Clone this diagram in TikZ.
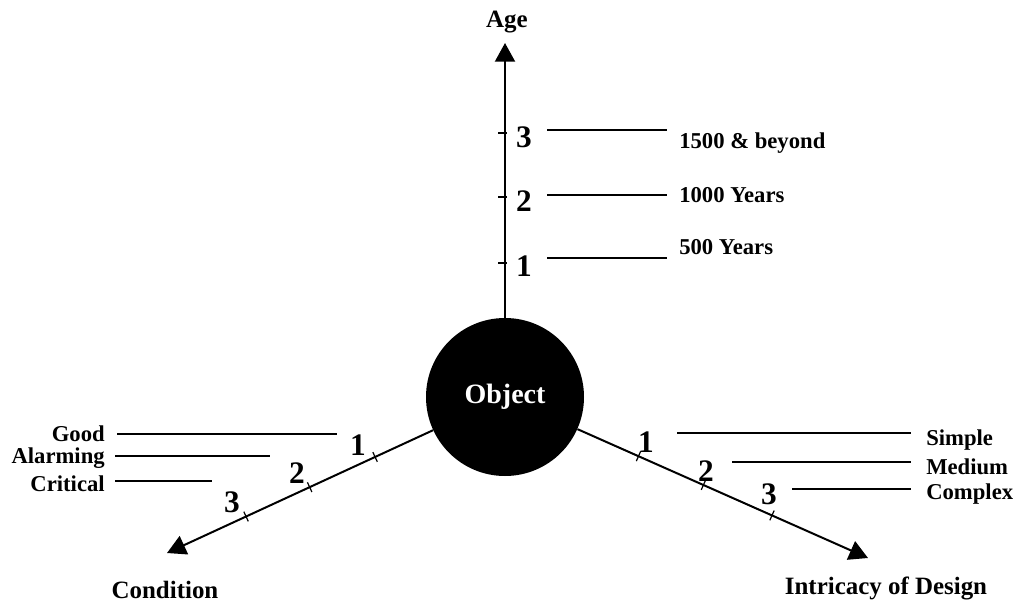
\documentclass[tikz,border=0pt]{standalone}
\usepackage{fontspec}
\setmainfont{Liberation Serif}
\usetikzlibrary{arrows.meta,calc}
\tikzset{
  axis/.style={line width=1.5pt,-{Triangle[length=14pt,width=15pt]}},
  lead/.style={line width=1.5pt},
  tickmark/.style={line width=0.9pt},
  lbl/.style={font=\fontsize{17}{20}\selectfont\bfseries,inner sep=0pt},
  ttl/.style={font=\fontsize{18.7}{22}\selectfont\bfseries,inner sep=0pt},
  num/.style={font=\fontsize{23.5}{26}\selectfont\bfseries,inner sep=0pt},
}
\begin{document}
\begin{tikzpicture}[x=0.75pt,y=-0.75pt]
\useasboundingbox (0,0) rectangle (1018,603);
% central object
\node[circle,fill=black,minimum size=118.5pt,inner sep=0pt,text=white,
      font=\fontsize{21}{24}\selectfont\bfseries] (obj) at (505,397) {\raisebox{-2pt}{Object}};
% axis tips
\coordinate (atip) at (505,43);
\coordinate (ctip) at (167,553);
\coordinate (itip) at (868,558);
% axes
\draw[axis] (obj) -- (atip);
\draw[axis] (obj) -- (ctip);
\draw[axis] (obj) -- (itip);
% titles
\node[ttl] (age) at (507,22) {Age};
\node[ttl] (cond) at (165,590) {Condition};
\node[ttl] (intr) at (886,588) {Intricacy of Design};
% ticks on age axis
\foreach \d/\n in {134/a1,200/a2,264/a3}{
  \coordinate (\n) at ($(obj.center)!\d/354!(atip)$);
  \draw[tickmark] ($(\n)!5pt!90:(atip)$) -- ($(\n)!1.5pt!-90:(atip)$);
}
% ticks on condition axis
\foreach \d/\n in {143/c1,215/c2,285/c3}{
  \coordinate (\n) at ($(obj.center)!\d/372!(ctip)$);
  \draw[tickmark] ($(\n)!4pt!90:(ctip)$) -- ($(\n)!4pt!-90:(ctip)$);
}
% ticks on intricacy axis
\foreach \d/\n in {146/i1,217/i2,292/i3}{
  \coordinate (\n) at ($(obj.center)!\d/397!(itip)$);
  \draw[tickmark] ($(\n)!4pt!90:(itip)$) -- ($(\n)!4pt!-90:(itip)$);
}
% numbers
\node[num] (na1) at (524,266) {1};
\node[num] (na2) at (524,201) {2};
\node[num] (na3) at (524,137) {3};
\node[num] (nc1) at (358,445) {1};
\node[num] (nc2) at (297,473) {2};
\node[num] (nc3) at (232,502) {3};
\node[num] (ni1) at (646,442) {1};
\node[num] (ni2) at (706,471) {2};
\node[num] (ni3) at (769,494) {3};
% age leaders and labels
\draw[lead] (547,130) -- (667,130);
\draw[lead] (547,195) -- (667,195);
\draw[lead] (547,258) -- (667,258);
\node[lbl,anchor=west] (l3) at (679,143) {1500 \& beyond};
\node[lbl,anchor=west] (l2) at (679,195) {1000 Years};
\node[lbl,anchor=west] (l1) at (679,247) {500 Years};
% condition leaders and labels
\draw[lead] (117,434) -- (337,434);
\draw[lead] (115,456) -- (270,456);
\draw[lead] (115,481) -- (212,481);
\node[lbl,anchor=east] (good) at (105,434) {Good};
\node[lbl,anchor=east] (alarm) at (105,458) {Alarming};
\node[lbl,anchor=east] (crit) at (105,484) {Critical};
% intricacy leaders and labels
\draw[lead] (677,433) -- (911,433);
\draw[lead] (732,462) -- (911,462);
\draw[lead] (792,489) -- (911,489);
\node[lbl,anchor=west] (simple) at (926,440) {Simple};
\node[lbl,anchor=west] (medium) at (926,467) {Medium};
\node[lbl,anchor=west] (complex) at (926,494) {Complex};
\end{tikzpicture}
\end{document}
